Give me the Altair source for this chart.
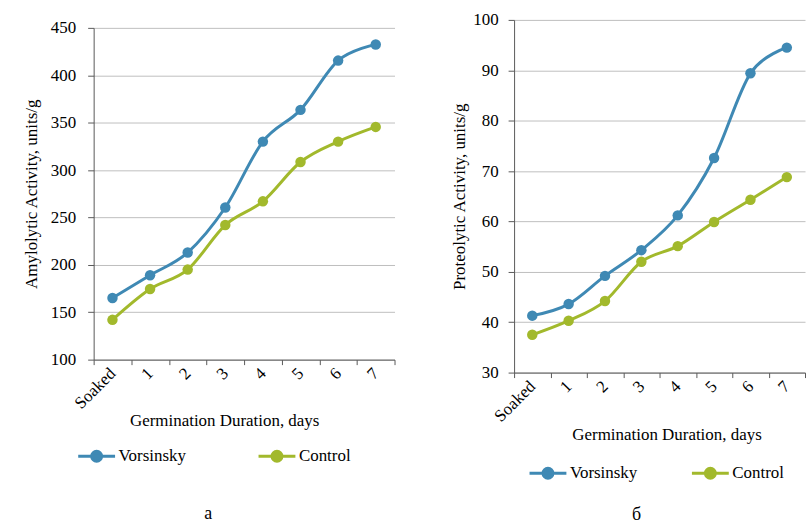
import altair as alt
import pandas as pd

days = ["Soaked", "1", "2", "3", "4", "5", "6", "7"]
series = ["Vorsinsky", "Control"]
amyl_vors = [165, 189, 213, 260.5, 330, 363.5, 415.5, 432.5]
amyl_ctrl = [142, 174.5, 195, 242, 267, 308.5, 330, 345.5]
prot_vors = [41.3, 43.6, 49.2, 54.3, 61.2, 72.6, 89.4, 94.5]
prot_ctrl = [37.5, 40.3, 44.2, 52.0, 55.1, 59.9, 64.3, 68.8]
amyl_ticks = [100, 150, 200, 250, 300, 350, 400, 450]
prot_ticks = [30, 40, 50, 60, 70, 80, 90, 100]
colors = ["#3F89B4", "#A2B92C"]

FONT = "Liberation Serif"
LFONT = "Times New Roman, Liberation Serif, serif"
SYMBOL = "M-1,0H1M0.27,0A0.27,0.27,0,1,1,-0.27,0A0.27,0.27,0,1,1,0.27,0Z"


def frame(vors, ctrl):
    rows = []
    for name, vals in zip(series, [vors, ctrl]):
        for d, v in zip(days, vals):
            rows.append({"day": d, "series": name, "value": v})
    return pd.DataFrame(rows)


def panel(df, ytitle, ydomain, yticks, w, h, top, lx, ly, colpad, ytitlepad, ylabelpad,
          xtitle_x, xtitle_y, caption, cap_dx, cap_offset):
    base = alt.Chart(df).encode(
        x=alt.X("day:N", sort=days,
                scale=alt.Scale(type="band", paddingInner=0, paddingOuter=0),
                axis=alt.Axis(title="Germination Duration, days", labelAngle=-45,
                              labelAlign="right", labelBaseline="middle",
                              tickBand="extent", grid=False, tickSize=5,
                              labelPadding=6, titleX=xtitle_x, titleY=xtitle_y,
                              titleBaseline="middle", labelFont=LFONT, titleFont=FONT,
                              labelFontSize=17, titleFontSize=17)),
        y=alt.Y("value:Q", scale=alt.Scale(domain=ydomain, nice=False, zero=False,
                                           range=[h, top]),
                axis=alt.Axis(title=ytitle, values=yticks, grid=True, tickSize=6,
                              labelPadding=ylabelpad, titlePadding=ytitlepad,
                              labelFont=LFONT, titleFont=FONT,
                              labelFontSize=17, titleFontSize=17)),
        color=alt.Color("series:N", sort=series,
                        scale=alt.Scale(domain=series, range=colors),
                        legend=alt.Legend(title=None, orient="none", legendX=lx, legendY=ly,
                                          direction="horizontal", columnPadding=colpad,
                                          symbolType=SYMBOL, symbolSize=1369,
                                          symbolStrokeWidth=3, labelOffset=2,
                                          labelFontSize=17, labelFont=LFONT,
                                          labelColor="#000000", labelLimit=0)),
    )
    lines = base.mark_line(interpolate="cardinal", strokeWidth=3)
    pts = base.mark_circle(size=110, opacity=1)
    return alt.layer(lines, pts).properties(
        width=w, height=h,
        title=alt.TitleParams(caption, orient="bottom", anchor="middle", frame="group",
                              dx=cap_dx, offset=cap_offset, fontSize=18,
                              font=FONT, fontWeight="normal", color="#000000"),
    )


left = panel(frame(amyl_vors, amyl_ctrl), "Amylolytic Activity, units/g",
             [100, 450], amyl_ticks, 302, 341, 8, -17, 418, 66, 10, 12,
             131, 61, "а", -36, 38)
right = panel(frame(prot_vors, prot_ctrl), "Proteolytic Activity, units/g",
              [30, 100], prot_ticks, 292, 354, 0, 14, 435, 48, 4, 10,
              153, 62, "б", -23, 22)

chart = alt.hconcat(left, right, spacing=55).resolve_scale(
    color="independent"
).resolve_legend(color="independent").properties(
    padding={"left": 22, "top": 10, "right": 0, "bottom": 0}
).configure(
    font=FONT,
    style={"guide-label": {"font": LFONT}, "guide-title": {"font": FONT}},
).configure_view(stroke=None).configure_axis(
    labelFont=LFONT, titleFont=FONT, labelFontSize=17, titleFontSize=17,
    labelColor="#000000", titleColor="#000000", titleFontWeight="normal",
    domainColor="#595959", tickColor="#595959", gridColor="#BFBFBF",
    domainWidth=1, gridWidth=1,
).configure_legend(labelFont=LFONT)

chart.save("out.html", embed_options={"renderer": "svg", "actions": False})
